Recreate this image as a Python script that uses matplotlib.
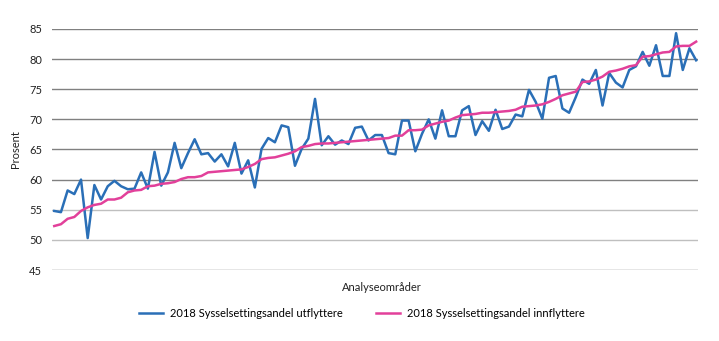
import matplotlib
matplotlib.use("Agg")
from matplotlib import pyplot as plt

# data (97 analysis areas)
utflyttere = [
    54.8, 54.6, 58.2, 57.6, 60.0, 50.3, 59.1, 56.7, 58.9, 59.8,
    58.9, 58.4, 58.5, 61.2, 58.5, 64.6, 59.0, 61.2, 66.1, 61.9,
    64.4, 66.7, 64.2, 64.4, 63.0, 64.2, 62.2, 66.1, 61.0, 63.2,
    58.7, 65.1, 66.9, 66.2, 69.0, 68.7, 62.3, 65.1, 66.8, 73.4,
    65.7, 67.2, 65.8, 66.5, 65.9, 68.6, 68.8, 66.5, 67.4, 67.4,
    64.4, 64.2, 69.8, 69.8, 64.7, 67.6, 70.0, 66.8, 71.5, 67.2,
    67.2, 71.5, 72.2, 67.4, 69.7, 68.1, 71.6, 68.4, 68.8, 70.8,
    70.5, 74.9, 72.9, 70.1, 76.9, 77.2, 71.8, 71.1, 73.7, 76.6,
    75.9, 78.2, 72.3, 77.7, 76.1, 75.3, 78.2, 78.8, 81.2, 78.9,
    82.3, 77.2, 77.2, 84.3, 78.2, 81.8, 79.8,
]
innflyttere = [
    52.3, 52.6, 53.5, 53.8, 54.8, 55.4, 55.8, 56.0, 56.7, 56.7,
    57.0, 57.9, 58.2, 58.3, 58.9, 59.0, 59.3, 59.4, 59.6, 60.1,
    60.4, 60.4, 60.6, 61.2, 61.3, 61.4, 61.5, 61.6, 61.7, 62.1,
    62.6, 63.4, 63.6, 63.7, 64.0, 64.3, 64.7, 65.4, 65.6, 65.9,
    66.0, 66.0, 66.1, 66.2, 66.3, 66.4, 66.5, 66.6, 66.7, 66.8,
    66.9, 67.3, 67.3, 68.2, 68.2, 68.3, 69.0, 69.3, 69.6, 69.8,
    70.3, 70.7, 70.8, 70.9, 71.1, 71.1, 71.2, 71.3, 71.4, 71.6,
    72.1, 72.2, 72.3, 72.5, 72.9, 73.4, 74.0, 74.3, 74.6, 76.2,
    76.3, 76.6, 77.1, 77.9, 78.1, 78.4, 78.8, 79.0, 80.4, 80.5,
    80.8, 81.1, 81.2, 82.1, 82.2, 82.2, 82.9,
]
yticks = [45, 50, 55, 60, 65, 70, 75, 80, 85]
labels = ["2018 Sysselsettingsandel utflyttere", "2018 Sysselsettingsandel innflyttere"]

plt.rcParams['font.family'] = ['Lato', 'DejaVu Sans']

fig = plt.figure(figsize=(7.19, 3.41), dpi=100)
ax = fig.add_axes([0.0723, 0.2082, 0.8987, 0.7068])

for t in yticks:
    col = '#bfbfbf' if t in (50, 55) else '#808080'
    ax.axhline(t, color=col, lw=1.0, zorder=0)

x = list(range(len(utflyttere)))
ax.plot(x, utflyttere, color='#2a6fb7', lw=1.8, label=labels[0])
ax.plot(x, innflyttere, color='#e2409a', lw=1.8, label=labels[1])

ax.set_xlim(-0.34, len(x) - 1 + 0.3)
ax.set_ylim(45, 85)
ax.set_yticks(yticks)
ax.set_xticks([])
ax.tick_params(axis='y', length=0, labelsize=8, colors='#222222', pad=7)
for s in ax.spines.values():
    s.set_visible(False)

ax.set_ylabel("Prosent", fontsize=8, color='#222222', labelpad=6)
ax.set_xlabel("Analyseområder", fontsize=8, color='#222222', labelpad=4)
ax.xaxis.set_label_coords(0.51, -0.05)

fig.legend(loc='center', bbox_to_anchor=(0.503, 0.082), ncol=2, frameon=False,
           fontsize=8, handlelength=2.2, columnspacing=3.0, handletextpad=0.6)

fig.savefig("out.png", dpi=100)
